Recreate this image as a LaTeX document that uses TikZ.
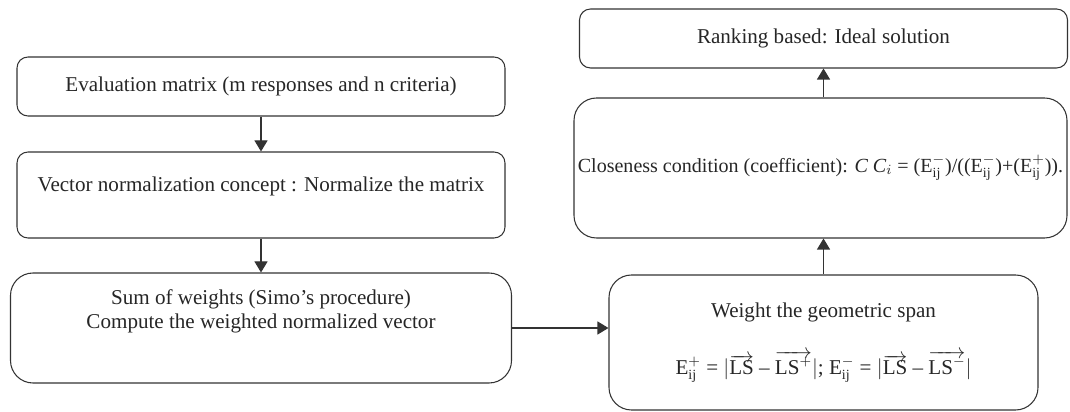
\documentclass[tikz,border=0pt]{standalone}
\usepackage{fontspec}
\setmainfont{Liberation Serif}
\usepackage{tikz}
\usetikzlibrary{shapes.geometric, arrows.meta}
\tikzstyle{process} = [rectangle, rounded corners=2.2mm, minimum width=9.76cm, minimum height=1.18cm, text centered, draw=black!80, text=black!85, line width=0.6pt, font=\fontsize{12}{14}\selectfont]
\tikzstyle{bigprocess} = [process, rounded corners=4.5mm]
\tikzstyle{arrow} = [draw=black!80, line width=0.6pt, -{Triangle[length=2.2mm,width=2.6mm]}]

\begin{document}
\begin{tikzpicture}[node distance=2cm]
                \useasboundingbox (0,0) rectangle (21.4,-8.24);
                % left column
                \node (eval) [process] at (5.22,-1.73) {Evaluation matrix (m responses and n criteria)};
                \node (vector) [process, below of=eval, yshift=-0.17cm, minimum height=1.72cm, text depth=0.45cm] {Vector normalization concept : Normalize the matrix};
                \node (sum) [bigprocess, below of=vector, yshift=-0.66cm, minimum width=10.02cm, minimum height=2.2cm, align=center, text depth=0.75cm] {Sum of weights (Simo’s procedure)\\Compute the weighted normalized vector};
                % right column
                \node (weight) [bigprocess, right of=sum, xshift=9.25cm, yshift=-0.29cm, minimum width=8.58cm, minimum height=2.7cm, align=center] {Weight the geometric span\\[0.55cm]
                    E$^{+}_{\mathrm{ij}}$ = $|\overrightarrow{\mathrm{LS}}$ – $\overrightarrow{\mathrm{LS}^{+}}|$; E$^{-}_{\mathrm{ij}}$ = $|\overrightarrow{\mathrm{LS}}$ – $\overrightarrow{\mathrm{LS}^{-}}|$};
                \node (close) [bigprocess, above of=weight, yshift=1.49cm, xshift=-0.06cm, minimum width=9.86cm, minimum height=2.8cm, inner xsep=0pt, font=\fontsize{11.4}{14}\selectfont] {Closeness condition (coefficient): \textit{C C}$_{i}$ = (E$^{-}_{\mathrm{ij}}$)/((E$^{-}_{\mathrm{ij}}$)+(E$^{+}_{\mathrm{ij}}$)).};
                \node (rank) [process, above of=close, yshift=0.59cm, xshift=0.06cm] {Ranking based: Ideal solution};

                \draw [arrow] (eval) -- (vector);
                \draw [arrow] (vector) -- (sum);
                \draw [arrow] (sum.east) -- (sum.east -| weight.west);
                \draw [arrow] (weight) -- (weight |- close.south);
                \draw [arrow] (weight |- close.north) -- (weight |- rank.south);
            \end{tikzpicture}
\end{document}
